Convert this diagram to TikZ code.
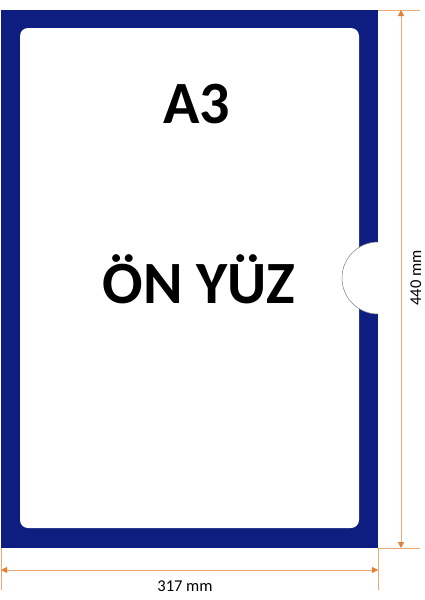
\documentclass[tikz,border=0pt]{standalone}
\usepackage{fontspec}
\setmainfont{Carlito}
\usetikzlibrary{
  arrows.meta,
  positioning
}
\definecolor{frameblue}{RGB}{14,30,128}
\definecolor{dimline}{RGB}{236,170,120}
\definecolor{dimtip}{RGB}{230,125,50}
\tikzset{
  x=1pt, y=-1pt,
  frame/.style={fill=frameblue},
  sheet/.style={fill=white, rounded corners=8pt},
  bigtext/.style={font=\fontsize{60}{60}\selectfont\bfseries, anchor=base},
  dimtext/.style={font=\fontsize{16.5}{17}\selectfont, anchor=base},
  helper/.style={draw=dimline, line width=0.8pt},
  dimarrow/.style={helper, {Triangle[width=6pt,length=6pt,color=dimtip]}-{Triangle[width=6pt,length=6pt,color=dimtip]}}
}

\begin{document}
\begin{tikzpicture}
    \useasboundingbox (0,0) rectangle (424,600);

    % sheet with blue border
    \fill[frame] (1,10) rectangle (378,548);
    \fill[sheet] (20,28) rectangle (359,528);

    % thumb notch
    \coordinate (n) at (378,278);
    \fill[white] (378,242) arc[start angle=90, end angle=270, radius=36pt] -- cycle;
    \draw[gray, line width=0.5pt] (378,242) arc[start angle=90, end angle=270, radius=36pt];

    % texts
    \node[bigtext] (size) at (197,123) {A3};
    \node[bigtext] (face) at (199,303) {ÖN YÜZ};

    % extension lines
    \coordinate (tl) at (1,548);
    \coordinate (tr) at (378,548);
    \coordinate (rt) at (378,10);
    \coordinate (tle) at (1,590);
    \coordinate (tre) at (378,590);
    \coordinate (rte) at (420,10);
    \coordinate (rbe) at (420,548);
    \draw[helper] (tl) -- (tle);
    \draw[helper] (tr) -- (tre);
    \draw[helper] (rt) -- (rte);
    \draw[helper] (tr) -- (rbe);

    % dimensions
    \coordinate (wl) at (1,570);
    \coordinate (wr) at (378,570);
    \coordinate (ht) at (401,10);
    \coordinate (hb) at (401,548);
    \draw[dimarrow] (wl) -- (wr);
    \draw[dimarrow] (ht) -- (hb);
    \node[dimtext] (width) at (185,591) {317 mm};
    \node[dimtext, rotate=90] (height) at (421,278) {440 mm};
\end{tikzpicture}
\end{document}
